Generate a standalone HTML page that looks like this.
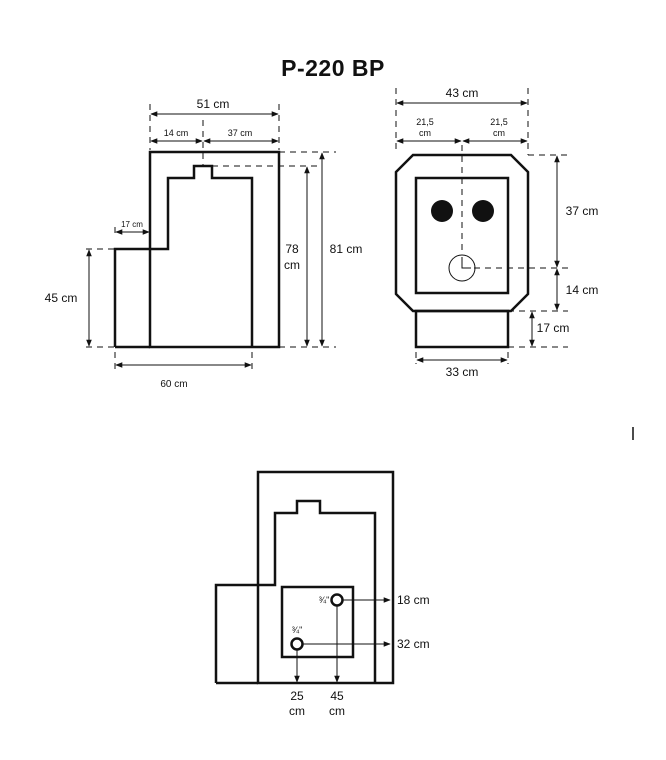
<!DOCTYPE html>
<html><head><meta charset="utf-8"><style>
html,body{margin:0;padding:0;background:#fff;}
svg{display:block;}
text{font-family:"Liberation Sans",sans-serif;fill:#111;}
</style></head><body>
<svg width="666" height="760" viewBox="0 0 666 760" xmlns="http://www.w3.org/2000/svg">
<defs>
<marker id="a" viewBox="0 0 10 10" refX="9" refY="5" markerWidth="7" markerHeight="7" orient="auto-start-reverse"><path d="M0,1 L10,5 L0,9 z" fill="#111"/></marker>
</defs>
<text x="333" y="76" font-size="23" font-weight="bold" text-anchor="middle" letter-spacing="0.5">P-220 BP</text>

<g fill="none" stroke="#111" stroke-width="2.5">
<rect x="150" y="152" width="129" height="195"/>
<polyline points="115,347 115,249 168,249 168,178 194,178 194,166 212,166 212,178 252,178 252,347"/>
<line x1="115" y1="347" x2="150" y2="347"/>
</g>
<g stroke="#111" stroke-width="1" fill="none">
<g stroke-dasharray="6,5">
<line x1="150" y1="104" x2="150" y2="150"/><line x1="279" y1="104" x2="279" y2="150"/>
<line x1="203" y1="120" x2="203" y2="165"/>
<line x1="279" y1="152" x2="336" y2="152"/><line x1="212" y1="166" x2="320" y2="166"/>
<line x1="279" y1="347" x2="336" y2="347"/><line x1="86" y1="347" x2="115" y2="347"/>
<line x1="86" y1="249" x2="115" y2="249"/>
<line x1="115" y1="227" x2="115" y2="237"/>
<line x1="115" y1="352" x2="115" y2="372"/><line x1="252" y1="352" x2="252" y2="372"/>
</g>
<line x1="151" y1="114" x2="278" y2="114" marker-start="url(#a)" marker-end="url(#a)"/>
<line x1="151" y1="141" x2="202" y2="141" marker-start="url(#a)" marker-end="url(#a)"/>
<line x1="204" y1="141" x2="278" y2="141" marker-start="url(#a)" marker-end="url(#a)"/>
<line x1="116" y1="232" x2="149" y2="232" marker-start="url(#a)" marker-end="url(#a)"/>
<line x1="89" y1="250" x2="89" y2="346" marker-start="url(#a)" marker-end="url(#a)"/>
<line x1="116" y1="365" x2="251" y2="365" marker-start="url(#a)" marker-end="url(#a)"/>
<line x1="307" y1="167" x2="307" y2="346" marker-start="url(#a)" marker-end="url(#a)"/>
<line x1="322" y1="153" x2="322" y2="346" marker-start="url(#a)" marker-end="url(#a)"/>
</g>
<text x="213" y="108" font-size="12" text-anchor="middle">51 cm</text>
<text x="176" y="136" font-size="9" text-anchor="middle">14 cm</text>
<text x="240" y="136" font-size="9" text-anchor="middle">37 cm</text>
<text x="132" y="227" font-size="8" text-anchor="middle">17 cm</text>
<text x="61" y="302" font-size="12" text-anchor="middle">45 cm</text>
<text x="174" y="387" font-size="10" text-anchor="middle">60 cm</text>
<text x="292" y="253" font-size="12" text-anchor="middle">78</text>
<text x="292" y="269" font-size="12" text-anchor="middle">cm</text>
<text x="346" y="253" font-size="12" text-anchor="middle">81 cm</text>

<g fill="none" stroke="#111" stroke-width="2.5">
<polygon points="413,155 511,155 528,172 528,294 511,311 413,311 396,294 396,172"/>
<rect x="416" y="178" width="92" height="115"/>
<rect x="416" y="311" width="92" height="36"/>
</g>
<circle cx="442" cy="211" r="11" fill="#111"/>
<circle cx="483" cy="211" r="11" fill="#111"/>
<circle cx="462" cy="268" r="13" fill="none" stroke="#111" stroke-width="1"/>
<g stroke="#111" stroke-width="1" fill="none">
<polyline points="462,257 462,268 471,268"/>
<g stroke-dasharray="6,5">
<line x1="462" y1="145" x2="462" y2="255"/>
<line x1="396" y1="88" x2="396" y2="150"/><line x1="528" y1="88" x2="528" y2="155"/>
<line x1="528" y1="155" x2="568" y2="155"/>
<line x1="474" y1="268" x2="568" y2="268"/>
<line x1="508" y1="311" x2="568" y2="311"/>
<line x1="508" y1="347" x2="568" y2="347"/>
<line x1="416" y1="352" x2="416" y2="364"/><line x1="508" y1="352" x2="508" y2="364"/>
</g>
<line x1="397" y1="103" x2="527" y2="103" marker-start="url(#a)" marker-end="url(#a)"/>
<line x1="397" y1="141" x2="461" y2="141" marker-start="url(#a)" marker-end="url(#a)"/>
<line x1="463" y1="141" x2="527" y2="141" marker-start="url(#a)" marker-end="url(#a)"/>
<line x1="557" y1="156" x2="557" y2="267" marker-start="url(#a)" marker-end="url(#a)"/>
<line x1="557" y1="269" x2="557" y2="310" marker-start="url(#a)" marker-end="url(#a)"/>
<line x1="532" y1="312" x2="532" y2="346" marker-start="url(#a)" marker-end="url(#a)"/>
<line x1="417" y1="360" x2="507" y2="360" marker-start="url(#a)" marker-end="url(#a)"/>
</g>
<text x="462" y="97" font-size="12" text-anchor="middle">43 cm</text>
<text x="425" y="125" font-size="9" text-anchor="middle">21,5</text>
<text x="425" y="136" font-size="9" text-anchor="middle">cm</text>
<text x="499" y="125" font-size="9" text-anchor="middle">21,5</text>
<text x="499" y="136" font-size="9" text-anchor="middle">cm</text>
<text x="582" y="215" font-size="12" text-anchor="middle">37 cm</text>
<text x="582" y="294" font-size="12" text-anchor="middle">14 cm</text>
<text x="553" y="332" font-size="12" text-anchor="middle">17 cm</text>
<text x="462" y="376" font-size="12" text-anchor="middle">33 cm</text>

<line x1="633" y1="427" x2="633" y2="440" stroke="#111" stroke-width="1.5"/>

<g fill="none" stroke="#111" stroke-width="2.5">
<rect x="258" y="472" width="135" height="211"/>
<polyline points="216,683 216,585 275,585 275,513 297,513 297,501 320,501 320,513 375,513 375,683"/>
<line x1="216" y1="683" x2="258" y2="683"/>
<rect x="282" y="587" width="71" height="70"/>
<circle cx="337" cy="600" r="5.5"/>
<circle cx="297" cy="644" r="5.5"/>
</g>
<g stroke="#111" stroke-width="1" fill="none">
<line x1="342" y1="600" x2="390" y2="600" marker-end="url(#a)"/>
<line x1="302" y1="644" x2="390" y2="644" marker-end="url(#a)"/>
<line x1="337" y1="605" x2="337" y2="682" marker-end="url(#a)"/>
<line x1="297" y1="649" x2="297" y2="682" marker-end="url(#a)"/>
</g>
<text x="324" y="603" font-size="9" text-anchor="middle">¾"</text>
<text x="297" y="633" font-size="9" text-anchor="middle">¾"</text>
<text x="397" y="604" font-size="12">18 cm</text>
<text x="397" y="648" font-size="12">32 cm</text>
<text x="297" y="700" font-size="12" text-anchor="middle">25</text>
<text x="297" y="715" font-size="12" text-anchor="middle">cm</text>
<text x="337" y="700" font-size="12" text-anchor="middle">45</text>
<text x="337" y="715" font-size="12" text-anchor="middle">cm</text>
</svg>
</body></html>
